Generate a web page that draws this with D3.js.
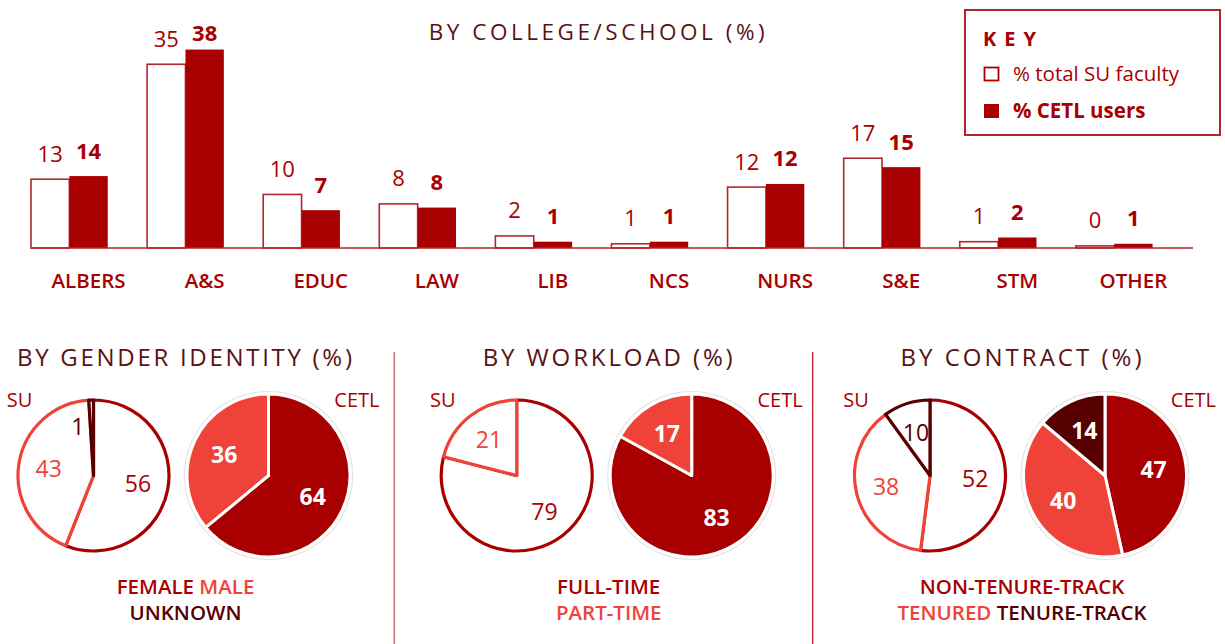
<!DOCTYPE html>
<html>
<head>
<meta charset="utf-8">
<script src="https://cdn.jsdelivr.net/npm/d3@7"></script>
<style>
  html, body { margin: 0; padding: 0; background: #fff; }
  svg { display: block; font-family: "Open Sans", "Noto Sans", sans-serif; }
</style>
</head>
<body>
<svg id="chart" width="1225" height="644"></svg>
<script>
// ---------------- DATA ----------------
const categories = ["ALBERS", "A&S", "EDUC", "LAW", "LIB", "NCS", "NURS", "S&E", "STM", "OTHER"];
const suFaculty  = [13.1, 35.0, 10.2, 8.4, 2.3, 0.8, 11.6, 17.1, 1.2, 0.4];
const cetlUsers  = [13.7, 37.8, 7.2, 7.7, 1.2, 1.2, 12.2, 15.4, 2.0, 0.8];

const keyLabels = ["% total SU faculty", "% CETL users"];

const genderCats  = ["FEMALE", "MALE", "UNKNOWN"];
const genderSU    = [56, 43, 1];
const genderCETL  = [64, 36, 0];

const workloadCats = ["FULL-TIME", "PART-TIME"];
const workloadSU   = [79, 21];
const workloadCETL = [83, 17];

const contractCats = ["NON-TENURE-TRACK", "TENURED", "TENURE-TRACK"];
const contractSU   = [52, 38, 10];
const contractCETL = [47, 40, 14];

const sectionTitles = ["BY GENDER IDENTITY (%)", "BY WORKLOAD (%)", "BY CONTRACT (%)"];
const mainTitle = "BY COLLEGE/SCHOOL (%)";

// ---------------- STYLE ----------------
const RED = "#a80000", LIGHT = "#ef4339", DARKEST = "#560000", TITLE = "#5a1212", LINE = "#b3262b";
const sliceColors = [RED, LIGHT, DARKEST];

const svg = d3.select("#chart");

// ---------------- BAR CHART ----------------
const x = d3.scaleBand().domain(categories).range([31, 1152.6]).paddingInner(0.339).paddingOuter(0);
const xSub = d3.scaleBand().domain(["su", "cetl"]).range([0, x.bandwidth()]).padding(0);
const y = d3.scaleLinear().domain([0, 40]).range([248, 38]);
const fmt = d3.format(".0f");

svg.append("text").attr("x", 596.7).attr("y", 40).attr("text-anchor", "middle")
  .attr("font-size", 22.5).attr("fill", TITLE)
  .attr("textLength", 336).attr("lengthAdjust", "spacing").text(mainTitle);

const groups = svg.append("g").selectAll("g").data(categories).join("g")
  .attr("transform", d => `translate(${x(d)},0)`);

groups.append("rect")
  .attr("x", xSub("su")).attr("width", xSub.bandwidth())
  .attr("y", (d, i) => y(suFaculty[i])).attr("height", (d, i) => y(0) - y(suFaculty[i]))
  .attr("fill", "#fff").attr("stroke", LINE).attr("stroke-width", 1.6);

groups.append("rect")
  .attr("x", xSub("cetl")).attr("width", xSub.bandwidth())
  .attr("y", (d, i) => y(cetlUsers[i])).attr("height", (d, i) => y(0) - y(cetlUsers[i]))
  .attr("fill", RED);

groups.append("text")
  .attr("x", xSub("su") + xSub.bandwidth() / 2)
  .attr("y", (d, i) => Math.max(y(suFaculty[i]) - 17.5, 41))
  .attr("text-anchor", "middle").attr("font-size", 22).attr("fill", RED)
  .text((d, i) => fmt(suFaculty[i]));

groups.append("text")
  .attr("x", xSub("cetl") + xSub.bandwidth() / 2)
  .attr("y", (d, i) => Math.max(y(cetlUsers[i]) - 17.5, 41))
  .attr("text-anchor", "middle").attr("font-size", 22).attr("font-weight", 700).attr("fill", RED)
  .text((d, i) => fmt(cetlUsers[i]));

groups.append("text")
  .attr("x", xSub("cetl") + xSub.bandwidth() / 2).attr("y", 288)
  .attr("text-anchor", "middle").attr("font-size", 20.5).attr("font-weight", 600).attr("fill", RED)
  .text(d => d);

svg.append("line").attr("x1", 31).attr("x2", 1193).attr("y1", y(0)).attr("y2", y(0))
  .attr("stroke", LINE).attr("stroke-width", 1.6);

// ---------------- KEY ----------------
const key = svg.append("g");
key.append("rect").attr("x", 965).attr("y", 10).attr("width", 255).attr("height", 125)
  .attr("fill", "#fff").attr("stroke", LINE).attr("stroke-width", 2);
key.append("text").attr("x", 983).attr("y", 46).attr("font-size", 20).attr("font-weight", 700)
  .attr("fill", RED).attr("letter-spacing", 8).text("KEY");
key.append("rect").attr("x", 984.5).attr("y", 67.5).attr("width", 14).attr("height", 13)
  .attr("fill", "#fff").attr("stroke", RED).attr("stroke-width", 1.8);
key.append("text").attr("x", 1013).attr("y", 81).attr("font-size", 20.5).attr("fill", RED).text(keyLabels[0]);
key.append("rect").attr("x", 984).attr("y", 104).attr("width", 15).attr("height", 14).attr("fill", RED);
key.append("text").attr("x", 1013).attr("y", 118).attr("font-size", 20.5).attr("font-weight", 700)
  .attr("fill", RED).text(keyLabels[1]);

// ---------------- PIES ----------------
const sections = [
  { title: sectionTitles[0], cats: genderCats, su: genderSU, cetl: genderCETL, cx: 184.5, tw: 335, legend: [[0, 1], [2]] },
  { title: sectionTitles[1], cats: workloadCats, su: workloadSU, cetl: workloadCETL, cx: 607.7, tw: 250, legend: [[0], [1]] },
  { title: sectionTitles[2], cats: contractCats, su: contractSU, cetl: contractCETL, cx: 1021, tw: 241, legend: [[0], [1, 2]] }
];

const pie = d3.pie().sort(null).value(d => d);
const R_SU = 75.5, R_CETL = 81.5, PIE_Y = 475.5;

function labelPos(d, R) {
  let a = (d.startAngle + d.endAngle) / 2;
  let r = 0.6 * R;
  if (d.value < 5) { a -= 0.28; r = 0.68 * R; }
  return [Math.sin(a) * r, -Math.cos(a) * r];
}

sections.forEach((s, si) => {
  const g = svg.append("g");
  g.append("text").attr("x", s.cx).attr("y", 366).attr("text-anchor", "middle")
    .attr("font-size", 24).attr("fill", TITLE)
    .attr("textLength", s.tw).attr("lengthAdjust", "spacing").text(s.title);

  // SU pie: white slices with coloured outlines
  const suX = s.cx - 91, ceX = s.cx + 84;
  const arcSU = d3.arc().innerRadius(0).outerRadius(R_SU);
  const gSU = g.append("g").attr("transform", `translate(${suX},${PIE_Y})`);
  const suArcs = pie(s.su);
  gSU.selectAll("path").data(suArcs).join("path")
    .attr("d", arcSU).attr("fill", "#fff")
    .attr("stroke", (d, i) => sliceColors[i]).attr("stroke-width", 3.2).attr("stroke-linejoin", "round");
  gSU.selectAll("text").data(suArcs.filter(d => d.value > 0)).join("text")
    .attr("transform", d => `translate(${labelPos(d, R_SU)})`)
    .attr("dy", "0.36em").attr("text-anchor", "middle").attr("font-size", 23)
    .attr("fill", d => sliceColors[d.index]).text(d => d.value);

  // CETL pie: filled slices
  const arcCE = d3.arc().innerRadius(0).outerRadius(R_CETL);
  const gCE = g.append("g").attr("transform", `translate(${ceX},${PIE_Y})`);
  gCE.append("circle").attr("r", R_CETL + 2.5).attr("fill", "#fff").attr("stroke", "#e9e2e2").attr("stroke-width", 1.2);
  const ceArcs = pie(s.cetl);
  gCE.selectAll("path").data(ceArcs).join("path")
    .attr("d", arcCE).attr("fill", (d, i) => sliceColors[i])
    .attr("stroke", "#fff").attr("stroke-width", 3).attr("stroke-linejoin", "round");
  gCE.selectAll("text").data(ceArcs.filter(d => d.value > 0)).join("text")
    .attr("transform", d => `translate(${labelPos(d, R_CETL)})`)
    .attr("dy", "0.36em").attr("text-anchor", "middle").attr("font-size", 23).attr("font-weight", 700)
    .attr("fill", "#fff").text(d => d.value);

  // SU / CETL tags
  g.append("text").attr("x", suX - 74).attr("y", 407).attr("text-anchor", "middle")
    .attr("font-size", 20).attr("fill", RED).text("SU");
  g.append("text").attr("x", ceX + 111).attr("y", 407).attr("text-anchor", "end")
    .attr("font-size", 20).attr("fill", RED).text("CETL");

  // legend lines
  s.legend.forEach((line, li) => {
    const t = g.append("text").attr("x", s.cx + 1).attr("y", 594 + li * 26)
      .attr("text-anchor", "middle").attr("font-size", 20.5).attr("font-weight", 600);
    line.forEach((ci, k) => {
      t.append("tspan").attr("fill", sliceColors[ci]).text((k > 0 ? " " : "") + s.cats[ci]);
    });
  });
});

// dividers
svg.append("line").attr("x1", 394.3).attr("x2", 394.3).attr("y1", 352).attr("y2", 644)
  .attr("stroke", "#c47a7c").attr("stroke-width", 1.5);
svg.append("line").attr("x1", 812.7).attr("x2", 812.7).attr("y1", 352).attr("y2", 644)
  .attr("stroke", "#b51a1f").attr("stroke-width", 1.3);
</script>
</body>
</html>
